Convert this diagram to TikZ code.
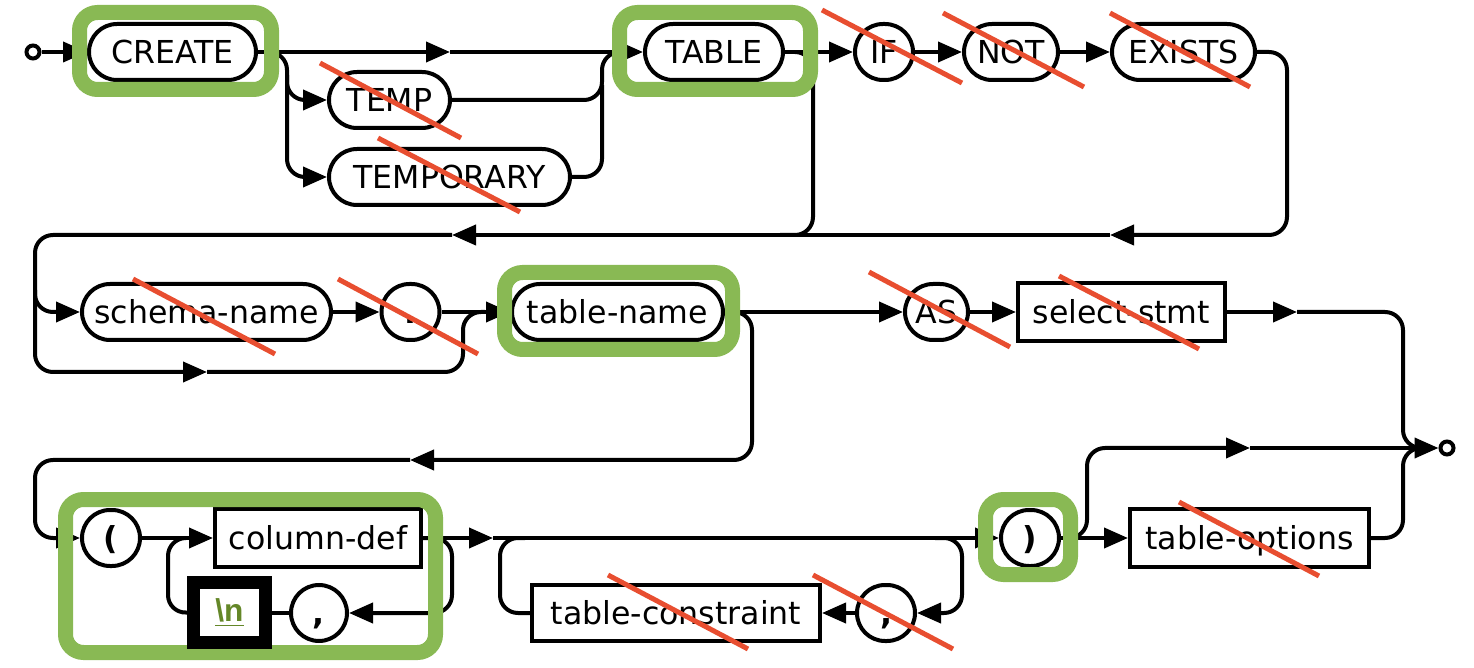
\documentclass[tikz,border=0pt]{standalone}
\usepackage{fontspec}
\setmainfont{DejaVu Sans}
\newfontfamily\libsans{Liberation Sans}
\usetikzlibrary{arrows.meta}
\definecolor{hlgreen}{RGB}{137,185,84}
\definecolor{strikered}{RGB}{232,78,48}
\definecolor{nlgreen}{RGB}{100,135,40}
\begin{document}
\begin{tikzpicture}[x=0.5pt,y=-0.5pt,
  base/.style={draw, line width=2pt, inner sep=0pt, minimum height=28pt,
    text height=11.5pt, text depth=0pt, fill=white,
    font=\fontsize{15.8}{18}\selectfont},
  term/.style={base, rounded corners=14pt},
  nt/.style={base, minimum height=29pt},
  punct/.style={term, font=\fontsize{15.8}{18}\selectfont\bfseries, minimum width=29pt},
  conn/.style={line width=2pt, rounded corners=9pt},
  arr/.style={conn, -{Triangle[length=12pt,width=10pt]}},
  hl/.style={draw=hlgreen, line width=7.5pt, rounded corners=9pt},
  strk/.style={draw=strikered, line width=2.5pt},
  endpt/.style={circle, draw, line width=2pt, minimum size=6.5pt, inner sep=0pt, fill=white}]
\useasboundingbox (0,0) rectangle (1474,668);

% ---------- nodes ----------
\node[endpt] (start) at (33,52) {};
\node[term, minimum width=83.5pt] (create) at (172.5,52) {CREATE};
\node[term, minimum width=60.5pt] (temp) at (389.5,100) {TEMP};
\node[term, minimum width=120.5pt] (temporary) at (449.5,177) {TEMPORARY};
\node[term, minimum width=69pt] (table) at (714,52) {TABLE};
\node[term, minimum width=29pt] (if) at (884,52) {IF};
\node[term, minimum width=47pt] (not) at (1011,52) {NOT};
\node[term, minimum width=71.5pt] (exists) at (1183.5,52) {EXISTS};

\node[term, minimum width=124.5pt] (schema) at (206.5,312) {schema-name};
\node[punct] (dot) at (410.5,312) {.};
\node[term, minimum width=105.5pt] (tname) at (617.5,312) {table-name};
\node[term, minimum width=31.5pt] (as) at (936.5,312) {AS};
\node[nt, minimum width=103.5pt] (select) at (1121.5,312) {select-stmt};

\node[punct] (lpar) at (111,538) {(};
\node[nt, minimum width=103pt] (coldef) at (318,538) {column-def};
\node[punct, minimum width=28pt] (comma1) at (319,613) {,};
\node[punct] (comma2) at (886,613) {,};
\node[nt, minimum width=144pt, minimum height=28pt] (tcons) at (676,613) {table-constraint};
\node[punct] (rpar) at (1030,538) {)};
\node[nt, minimum width=119.5pt] (topts) at (1249.5,538) {table-options};
\node[endpt] (end) at (1447,448) {};

% ---------- coordinates ----------
\coordinate (a1) at (450,52);
\coordinate (r1) at (1110,235);
\coordinate (r2) at (452,235);
\coordinate (b1) at (207,372);
\coordinate (s1) at (1297,312);
\coordinate (r3) at (410,460);
\coordinate (c1) at (493,538);
\coordinate (b2) at (1250,448);
\coordinate (e1) at (1416,448);

% ---------- row 1 ----------
\draw[arr] (start) -- (create.west);
\draw[arr] (create.east) -- (a1);
\draw[arr] (a1) -- (table.west);
\draw[arr] (265,52) -- (287,52) -- (287,177) -- (temporary.west);
\draw[arr] (287,75) -- (287,100) -- (temp.west);
\draw[conn] (temp.east) -- (602,100) -- (602,52) -- (625,52);
\draw[conn] (temporary.east) -- (602,177) -- (602,85);
\draw[arr] (table.east) -- (if.west);
\draw[arr] (if.east) -- (not.west);
\draw[arr] (not.east) -- (exists.west);
\draw[conn] (795,52) -- (813,52) -- (813,235) -- (780,235);
\draw[arr] (exists.east) -- (1287,52) -- (1287,235) -- (r1);
\draw[arr] (r1) -- (r2);

% ---------- row 2 ----------
\draw[arr] (r2) -- (35,235) -- (35,312) -- (schema.west);
\draw[arr] (35,290) -- (35,372) -- (b1);
\draw[conn] (b1) -- (463,372) -- (463,312) -- (485,312);
\draw[arr] (schema.east) -- (dot.west);
\draw[arr] (dot.east) -- (tname.west);
\draw[arr] (tname.east) -- (as.west);
\draw[arr] (as.east) -- (select.west);
\draw[arr] (select.east) -- (s1);
\draw[conn] (s1) -- (1403,312) -- (1403,448) -- (1425,448);
\draw[arr] (735,312) -- (752,312) -- (752,460) -- (r3);

% ---------- row 3 ----------
\draw[arr] (r3) -- (35,460) -- (35,538) -- (lpar.west);
\draw[arr] (lpar.east) -- (coldef.west);
\draw[arr] (coldef.east) -- (452,538) -- (452,613) -- (comma1.east);
\draw[conn] (comma1.west) -- (200,613);
\draw[arr] (coldef.east) -- (c1);
\draw[arr] (c1) -- (rpar.west);
\draw[arr] (935,538) -- (962,538) -- (962,613) -- (comma2.east);
\draw[arr] (comma2.west) -- (tcons.east);
\draw[conn] (tcons.west) -- (500,613) -- (500,538) -- (525,538);
\draw[arr] (rpar.east) -- (topts.west);
\draw[arr] (1070,538) -- (1087,538) -- (1087,448) -- (b2);
\draw[conn] (b2) -- (e1);
\draw[conn] (topts.east) -- (1403,538) -- (1403,448) -- (1425,448);
\draw[arr] (e1) -- (end.west);

% ---------- highlights ----------
\draw[hl] (79.5,12.5) rectangle (271.5,89.5);
\draw[hl] (619.5,12.5) rectangle (810.5,89.5);
\draw[hl] (504.5,272.5) rectangle (732.5,349.5);
\draw[hl] (65.5,499.5) rectangle (435.5,652.5);
\draw[hl] (985.5,499.5) rectangle (1070.5,574.5);

% newline marker (drawn above the highlight)
\node[draw=black, line width=6.5pt, minimum width=36pt, minimum height=30pt,
  inner sep=0pt, fill=white, text=nlgreen,
  font={\fontsize{15.8}{18}\libsans\bfseries}] (nl) at (229.5,612.5) {\underline{\textbackslash n}};
\draw[conn] (nl.west) -- (168,613) -- (168,538) -- (185,538);

% ---------- strike-throughs ----------
\draw[strk] (320,63) -- (461,138);
\draw[strk] (378,138) -- (520,212);
\draw[strk] (822,10) -- (962,83);
\draw[strk] (943,13) -- (1084,87);
\draw[strk] (1110,13) -- (1250,87);
\draw[strk] (133,279) -- (275,354);
\draw[strk] (338,279) -- (478,354);
\draw[strk] (869,272) -- (1010,347);
\draw[strk] (1059,276) -- (1199,349);
\draw[strk] (608,575) -- (748,649);
\draw[strk] (813,575) -- (953,649);
\draw[strk] (1179,502) -- (1319,576);
\end{tikzpicture}
\end{document}
